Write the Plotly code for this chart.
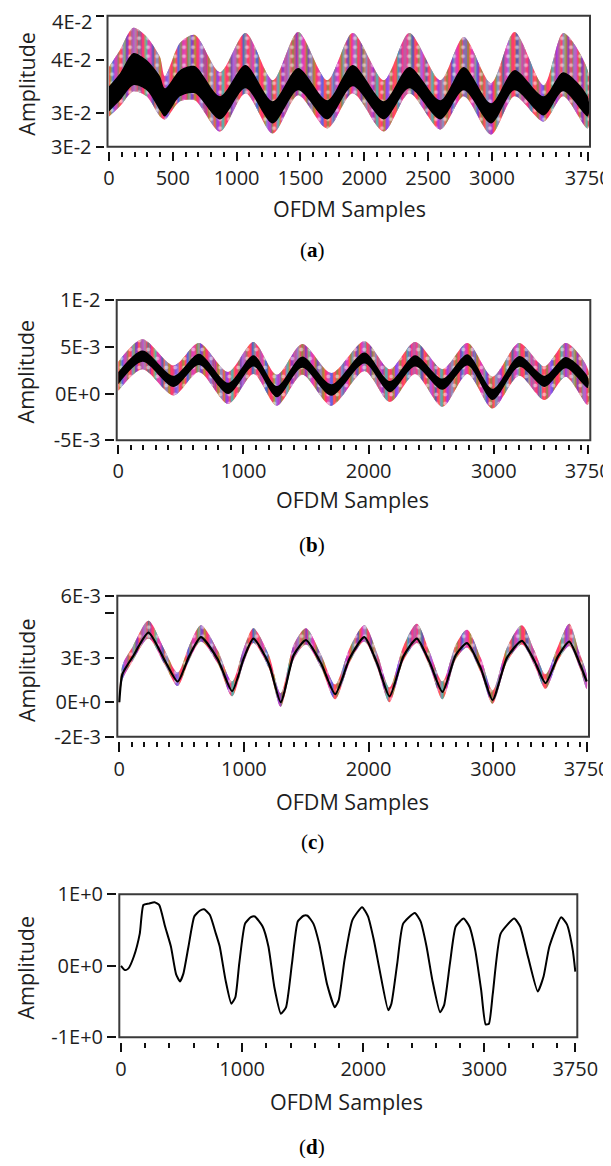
import plotly.graph_objects as go

# ---------------- data ----------------
# Panel (a): envelopes of the coloured traces and of the black trace (x 1e-2)
a_x = [0, 86, 191, 295, 399, 438, 556, 672, 870, 1069, 1283, 1481, 1710, 1909,
       2153, 2352, 2596, 2779, 2993, 3176, 3405, 3558, 3750]
a_col_hi = [3.79, 3.96, 4.18, 4.09, 3.89, 3.70, 4.03, 4.11, 3.74, 4.13, 3.66, 4.14,
            3.66, 4.13, 3.66, 4.13, 3.66, 4.09, 3.63, 4.14, 3.61, 4.13, 3.76]
a_blk_hi = [3.60, 3.73, 3.93, 3.86, 3.70, 3.58, 3.76, 3.80, 3.50, 3.81, 3.45, 3.78,
            3.46, 3.81, 3.45, 3.79, 3.46, 3.79, 3.43, 3.76, 3.50, 3.74, 3.50]
a_blk_lo = [3.35, 3.46, 3.61, 3.56, 3.36, 3.30, 3.50, 3.53, 3.27, 3.58, 3.23, 3.56,
            3.27, 3.60, 3.27, 3.58, 3.27, 3.56, 3.23, 3.56, 3.31, 3.55, 3.30]
a_col_lo = [3.30, 3.40, 3.55, 3.50, 3.30, 3.27, 3.45, 3.46, 3.15, 3.53, 3.13, 3.51,
            3.18, 3.53, 3.15, 3.53, 3.17, 3.50, 3.12, 3.50, 3.25, 3.50, 3.18]

# Panel (b) (x 1e-3)
b_x = [0, 193, 442, 644, 878, 1080, 1267, 1469, 1702, 1967, 2169, 2371, 2590,
       2790, 2990, 3202, 3405, 3575, 3750]
b_col_hi = [3.4, 5.8, 3.0, 5.4, 2.3, 5.5, 2.0, 5.3, 2.2, 5.6, 2.6, 5.5, 2.6, 5.4,
            1.8, 5.4, 2.9, 5.4, 2.7]
b_blk_hi = [2.3, 4.6, 1.9, 4.25, 1.15, 4.1, 0.8, 3.95, 1.0, 4.4, 1.35, 4.1, 1.6,
            4.2, 0.5, 4.0, 1.9, 3.9, 1.8]
b_blk_lo = [1.0, 3.4, 0.7, 3.05, -0.05, 2.9, -0.4, 2.75, -0.25, 3.2, 0.15, 2.9,
            0.4, 3.0, -0.7, 2.85, 0.7, 2.7, 0.6]
b_col_lo = [0.3, 2.6, -0.2, 2.3, -1.1, 2.1, -1.3, 2.0, -1.3, 2.4, -0.9, 2.1, -1.4,
            2.1, -1.6, 1.9, -0.7, 1.8, -1.2]

# Panel (c) (x 1e-3)
c_x = [0, 25, 110, 234, 360, 468, 560, 655, 790, 905, 1000, 1076, 1200, 1295,
       1400, 1498, 1620, 1732, 1850, 1966, 2070, 2168, 2280, 2387, 2490, 2593,
       2700, 2790, 2900, 2995, 3110, 3230, 3330, 3420, 3520, 3610, 3690, 3750]
c_black = [0.0, 1.9, 3.1, 4.7, 2.9, 1.4, 3.1, 4.4, 2.9, 0.75, 3.0, 4.3, 2.6, 0.0,
           3.2, 4.2, 2.6, 0.55, 3.0, 4.4, 2.6, 0.4, 3.1, 4.3, 2.7, 0.7, 3.2, 4.0,
           2.3, 0.15, 3.0, 4.15, 2.8, 1.3, 3.1, 4.1, 2.7, 1.4]
c_col_hi = [0.4, 2.5, 3.8, 5.5, 3.6, 2.0, 3.8, 5.2, 3.5, 1.4, 3.7, 5.0, 3.2, 0.6,
            3.9, 5.0, 3.2, 1.2, 3.7, 5.2, 3.3, 1.0, 3.8, 5.3, 3.4, 1.4, 3.9, 4.9,
            3.0, 0.8, 3.7, 5.2, 3.5, 1.9, 3.8, 5.3, 3.4, 1.9]
c_col_lo = [-0.2, 1.5, 2.8, 4.3, 2.6, 1.1, 2.8, 4.1, 2.6, 0.4, 2.7, 4.0, 2.3, -0.3,
            2.9, 3.9, 2.3, 0.2, 2.7, 4.1, 2.3, 0.0, 2.8, 4.0, 2.4, 0.2, 2.9, 3.7,
            2.0, -0.1, 2.7, 3.9, 2.5, 0.9, 2.8, 3.8, 2.4, 0.9]

# Panel (d)
d_x = [0, 33, 60, 106, 155, 185, 230, 277, 316, 364, 412, 455, 487, 515, 557, 605,
       650, 686, 734, 783, 815, 863, 911, 944, 976, 1024, 1072, 1105, 1169, 1217,
       1266, 1320, 1362, 1411, 1459, 1507, 1540, 1588, 1636, 1700, 1765, 1797,
       1845, 1910, 1990, 2039, 2087, 2135, 2206, 2232, 2280, 2329, 2425, 2473,
       2522, 2570, 2634, 2667, 2715, 2763, 2828, 2876, 2924, 2973, 3010, 3037,
       3069, 3134, 3246, 3295, 3359, 3440, 3488, 3536, 3633, 3681, 3729, 3750]
d_y = [0.0, -0.06, -0.04, 0.13, 0.45, 0.85, 0.87, 0.89, 0.85, 0.55, 0.27, -0.12,
       -0.22, -0.11, 0.27, 0.69, 0.77, 0.79, 0.71, 0.45, 0.27, -0.2, -0.53, -0.44,
       0.03, 0.59, 0.68, 0.69, 0.55, 0.27, -0.3, -0.67, -0.58, 0.03, 0.62, 0.70,
       0.70, 0.59, 0.31, -0.25, -0.58, -0.48, 0.08, 0.64, 0.82, 0.69, 0.36, -0.06,
       -0.62, -0.53, 0.03, 0.59, 0.74, 0.62, 0.27, -0.2, -0.65, -0.55, 0.03, 0.55,
       0.66, 0.55, 0.22, -0.34, -0.82, -0.81, -0.39, 0.45, 0.66, 0.55, 0.13,
       -0.36, -0.15, 0.27, 0.68, 0.58, 0.22, -0.08]

# tick labels
a_yticks = [0.0300, 0.03334, 0.03860, 0.0430]
a_yticktext = ["3E-2", "3E-2", "4E-2", ""]   # top label drawn below its tick
a_top_label = "4E-2"
b_yticks = [-5e-3, 0, 5e-3, 1e-2]
b_yticktext = ["-5E-3", "0E+0", "5E-3", "1E-2"]
c_yticks = [-2.33e-3, 0, 3e-3, 6e-3, 7.2e-3]
c_yticktext = ["-2E-3", "0E+0", "3E-3", "", "6E-3"]
d_yticks = [-1, 0, 1]
d_yticktext = ["-1E+0", "0E+0", "1E+0"]
a_xticks = [0, 500, 1000, 1500, 2000, 2500, 3000, 3750]
bcd_xticks = [0, 1000, 2000, 3000, 3750]
captions = ["a", "b", "c", "d"]

# ---------------- layout helpers ----------------
# the page body has an 8 px margin, so the figure is drawn smaller and
# all reference pixel positions are shifted by that offset
OFF = 8
W, H = 611 - OFF, 1166 - 2 * OFF
def fx(p):
    return (p - OFF) / W
def fy(p):
    return 1 - (p - OFF) / H

TXT = "#1e1e1e"
FONT = "Open Sans"
FS = 21.5
FT = 20

fig = go.Figure()

def scale(vals, k):
    return [v * k for v in vals]

def band(xs, hi, lo, xa, ya, color=None, patterns=None):
    px = list(xs) + list(xs)[::-1]
    py = list(hi) + list(lo)[::-1]
    if color is not None:
        fig.add_trace(go.Scatter(x=px, y=py, xaxis=xa, yaxis=ya, mode="lines",
                                 fill="toself", fillcolor=color,
                                 line=dict(width=0, shape="spline", smoothing=0.8),
                                 hoverinfo="skip", showlegend=False))
    for shp, col, size, sol in (patterns or []):
        fig.add_trace(go.Scatter(x=px, y=py, xaxis=xa, yaxis=ya, mode="lines",
                                 fill="toself", fillcolor="rgba(0,0,0,0)",
                                 fillpattern=dict(shape=shp, fgcolor=col,
                                                  bgcolor="rgba(0,0,0,0)",
                                                  size=size, solidity=sol,
                                                  fillmode="overlay"),
                                 line=dict(width=0, shape="spline", smoothing=0.8),
                                 hoverinfo="skip", showlegend=False))

noise = [("|", "#12e612", 7, 0.3), ("|", "#22d8ff", 11, 0.3),
         ("|", "#2a3cff", 13, 0.25), ("|", "#ff9a10", 5, 0.2),
         ("|", "#c23cff", 17, 0.25), (".", "#ffffff", 9, 0.15)]

# panel a
band(a_x, scale(a_col_hi, 1e-2), scale(a_col_lo, 1e-2), "x", "y", "#ff3a6e", noise)
band(a_x, scale(a_blk_hi, 1e-2), scale(a_blk_lo, 1e-2), "x", "y", "#000000")
# panel b
band(b_x, scale(b_col_hi, 1e-3), scale(b_col_lo, 1e-3), "x2", "y2", "#ff3a6e", noise)
band(b_x, scale(b_blk_hi, 1e-3), scale(b_blk_lo, 1e-3), "x2", "y2", "#000000")
# panel c
band(c_x, scale(c_col_hi, 1e-3), scale(c_col_lo, 1e-3), "x3", "y3", "#ff3a6e", noise)
fig.add_trace(go.Scatter(x=c_x, y=scale(c_black, 1e-3), xaxis="x3", yaxis="y3",
                         mode="lines", line=dict(color="#000000", width=2.2,
                                                 shape="spline", smoothing=0.6),
                         hoverinfo="skip", showlegend=False))
# panel d
fig.add_trace(go.Scatter(x=d_x, y=d_y, xaxis="x4", yaxis="y4", mode="lines",
                         line=dict(color="#000000", width=2, shape="spline",
                                   smoothing=0.5),
                         hoverinfo="skip", showlegend=False))

# panel geometry in reference pixels
panels = [
    dict(l=107.5, r=590, t=15.7, b=146.7, xr=[-11.75, 3768], yr=[0.02999, 0.04301],
         yt=a_yticks, ytt=a_yticktext, xt=a_xticks, md=100,
         ypos=103.5, ylen=8, xpos=150.5, xlen=9.5,
         ytitle=(25.7, 84), xtitle=(349, 208), cap=250),
    dict(l=116.7, r=590.3, t=300, b=440.3, xr=[-12.8, 3770.8], yr=[-5.0001e-3, 10.0001e-3],
         yt=b_yticks, ytt=b_yticktext, xt=bcd_xticks, md=100,
         ypos=113.5, ylen=9, xpos=443.5, xlen=9,
         ytitle=(25.7, 371.7), xtitle=(352, 499), cap=545),
    dict(l=117.3, r=589, t=595.7, b=736.7, xr=[-16, 3768.5], yr=[-2.3301e-3, 7.2001e-3],
         yt=c_yticks, ytt=c_yticktext, xt=bcd_xticks, md=100,
         ypos=113.5, ylen=8.5, xpos=741, xlen=9.5,
         ytitle=(26, 670), xtitle=(352, 801), cap=842),
    dict(l=119.3, r=577.3, t=894.3, b=1037.3, xr=[-14, 3766.5], yr=[-1.0001, 1.0001],
         yt=d_yticks, ytt=d_yticktext, xt=bcd_xticks, md=200,
         ypos=116, ylen=9, xpos=1042, xlen=8.5,
         ytitle=(25, 967.5), xtitle=(346, 1101), cap=1147),
]

layout = dict(width=W, height=H, margin=dict(l=0, r=0, t=0, b=0, autoexpand=False),
              paper_bgcolor="white", plot_bgcolor="white", showlegend=False)
annotations = []
shapes = []
tickfont = dict(family=FONT, size=FT, color=TXT)
for i, p in enumerate(panels):
    sfx = "" if i == 0 else str(i + 1)
    layout["xaxis" + sfx] = dict(
        domain=[fx(p["l"]), fx(p["r"])], range=p["xr"], anchor="free",
        position=fy(p["xpos"]), showline=False, zeroline=False, showgrid=False,
        automargin=False, ticklabeloverflow="allow",
        tickmode="array", tickvals=p["xt"], ticktext=[str(v) for v in p["xt"]],
        ticks="outside", ticklen=p["xlen"], tickwidth=2, tickcolor="#111111",
        tickfont=tickfont, fixedrange=True,
        minor=dict(ticks="outside", ticklen=5, tickwidth=2, tickcolor="#111111",
                   tick0=0, dtick=p["md"], showgrid=False))
    layout["yaxis" + sfx] = dict(
        domain=[fy(p["b"]), fy(p["t"])], range=p["yr"], anchor="free",
        position=fx(p["ypos"]), showline=False, zeroline=False, showgrid=False,
        automargin=False, ticklabeloverflow="allow",
        tickmode="array", tickvals=p["yt"], ticktext=p["ytt"],
        ticks="outside", ticklen=p["ylen"], tickwidth=2, tickcolor="#111111",
        tickfont=tickfont, fixedrange=True)
    xr = "x" + sfx
    shapes.append(dict(type="rect", xref=xr + " domain", yref="y" + sfx + " domain",
                       x0=0, x1=1, y0=0, y1=1, layer="above",
                       line=dict(color="#3a3a3a", width=2)))
    annotations.append(dict(text="Amplitude", x=fx(p["ytitle"][0]), y=fy(p["ytitle"][1]),
                            xref="paper", yref="paper", showarrow=False, textangle=-90,
                            xanchor="center", yanchor="middle",
                            font=dict(family=FONT, size=FS, color=TXT)))
    annotations.append(dict(text="OFDM Samples", x=fx(p["xtitle"][0]), y=fy(p["xtitle"][1]),
                            xref="paper", yref="paper", showarrow=False,
                            xanchor="center", yanchor="middle",
                            font=dict(family=FONT, size=FS, color=TXT)))
    annotations.append(dict(text="(<b>" + captions[i] + "</b>)", x=fx(312), y=fy(p["cap"]),
                            xref="paper", yref="paper", showarrow=False,
                            xanchor="center", yanchor="middle",
                            font=dict(family="Liberation Serif", size=21, color="#000000")))

# top tick label of panel (a), drawn just below its tick as in the reference
annotations.append(dict(text=a_top_label, x=fx(94), y=fy(22), xref="paper", yref="paper",
                        showarrow=False, xanchor="right", yanchor="middle",
                        font=dict(family=FONT, size=FT, color=TXT)))

layout["annotations"] = annotations
layout["shapes"] = shapes
fig.update_layout(**layout)
fig.write_html("out.html")
